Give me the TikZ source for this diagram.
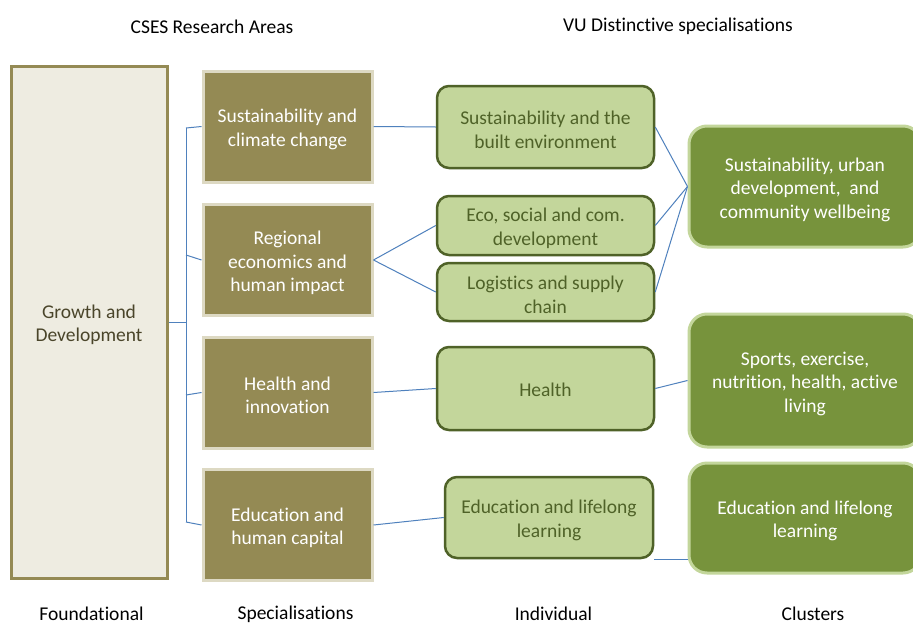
\documentclass[tikz,border=0pt]{standalone}
\usepackage{fontspec}
\setmainfont{Carlito}[Ligatures={NoCommon}]
\definecolor{olive}{HTML}{948A54}
\definecolor{oliveborder}{HTML}{DDD9C3}
\definecolor{basefill}{HTML}{EEECE1}
\definecolor{basetext}{HTML}{4A452A}
\definecolor{lightgreen}{HTML}{C3D69B}
\definecolor{darkgreenline}{HTML}{4F6228}
\definecolor{clustergreen}{HTML}{77933C}
\definecolor{clusterborder}{HTML}{C3D69B}
\definecolor{linkblue}{HTML}{4F81BD}
\tikzset{
  txt/.style={font=\fontsize{19.5}{23.5}\selectfont, align=center, inner sep=0pt},
  boxtext/.style={txt, yshift=-3pt},
  basebox/.style={draw=olive, fill=basefill, line width=3pt, inner sep=0pt},
  specbox/.style={draw=oliveborder, fill=olive, line width=3pt,
    minimum width=169pt, minimum height=111pt, inner sep=0pt},
  indbox/.style={draw=darkgreenline, fill=lightgreen, line width=2.5pt,
    rounded corners=12pt, minimum width=217pt, inner sep=0pt},
  clubox/.style={draw=clusterborder, fill=clustergreen, line width=3pt,
    rounded corners=18pt, minimum width=232pt, inner sep=0pt},
  basetxt/.style={boxtext, text=basetext},
  spectxt/.style={boxtext, text=white},
  indtxt/.style={boxtext, text=darkgreenline},
  clutxt/.style={boxtext, text=white},
  link/.style={draw=linkblue, line width=1pt},
  label/.style={txt, text=black}
}
\begin{document}
\begin{tikzpicture}[x=1pt,y=-1pt]
\clip (0,0) rectangle (913,624);
\fill[white] (0,0) rectangle (913,624);

% headers
\node[label] (h1) at (212,26.5) {CSES Research Areas};
\node[label] (h2) at (678,26.5) {VU Distinctive specialisations};
\node[label] (f1) at (91.5,614) {Foundational};
\node[label] (f2) at (295.5,614) {Specialisations};
\node[label] (f3) at (553.5,614) {Individual};
\node[label] (f4) at (813,614) {Clusters};

% foundational
\node[basebox, minimum width=156pt, minimum height=512pt] (G) at (89,322) {};
\node[basetxt] (Gt) at (G) {Growth and\\Development};

% specialisations
\node[specbox] (S1) at (287.5,126.5) {};
\node[specbox] (S2) at (287.5,260) {};
\node[specbox] (S3) at (287.5,392.5) {};
\node[specbox] (S4) at (287.5,525) {};
\node[spectxt] (S1t) at (S1) {Sustainability and\\climate change};
\node[spectxt] (S2t) at (S2) {Regional\\economics and\\human impact};
\node[spectxt] (S3t) at (S3) {Health and\\innovation};
\node[spectxt] (S4t) at (S4) {Education and\\human capital};

% individual
\node[indbox, minimum height=82pt] (I1) at (545.5,127) {};
\node[indbox, minimum height=59pt] (I2) at (545.5,225.5) {};
\node[indbox, minimum height=58pt] (I3) at (545.5,292) {};
\node[indbox, minimum height=83pt] (I4) at (545.5,388.5) {};
\node[indbox, minimum width=208pt, minimum height=81pt] (I5) at (549,517.5) {};
\node[indtxt] (I1t) at (I1) {Sustainability and the\\built environment};
\node[indtxt] (I2t) at (I2) {Eco, social and com.\\development};
\node[indtxt] (I3t) at (I3) {Logistics and supply\\chain};
\node[indtxt, yshift=2pt] (I4t) at (I4) {Health};
\node[indtxt] (I5t) at (I5) {Education and lifelong\\learning};

% clusters
\node[clubox, minimum height=121pt] (C1) at (805,186.5) {};
\node[clubox, minimum height=133pt] (C2) at (805,380.5) {};
\node[clubox, minimum height=110pt] (C3) at (805,518) {};
\node[clutxt] (C1t) at (C1) {Sustainability, urban\\development,\ \ and\\community wellbeing};
\node[clutxt] (C2t) at (C2) {Sports, exercise,\\nutrition, health, active\\living};
\node[clutxt] (C3t) at (C3) {Education and lifelong\\learning};

% bracket
\coordinate (bm) at (186,322);
\coordinate (b1) at (186,128);
\coordinate (b2) at (186,255);
\coordinate (b3) at (186,395);
\coordinate (b4) at (186,522);
\draw[link] (G.east) -- (bm);
\draw[link] (b1) -- (b4);
\draw[link] (b1) -- (S1.west);
\draw[link] (b2) -- (S2.west);
\draw[link] (b3) -- (S3.west);
\draw[link] (b4) -- (S4.west);

% spec -> individual
\draw[link] (S1.east) -- (I1.west);
\draw[link] (S2.east) -- (I2.west);
\draw[link] (S2.east) -- (I3.west);
\draw[link] (S3.east) -- (I4.west);
\draw[link] (S4.east) -- (I5.west);

% individual -> cluster
\draw[link] (I1.east) -- (C1.west);
\draw[link] (I2.east) -- (C1.west);
\draw[link] (I3.east) -- (C1.west);
\draw[link] (I4.east) -- (C2.west);
\draw[link] (I5.south east) -- (C3.west |- I5.south east);
\end{tikzpicture}
\end{document}
